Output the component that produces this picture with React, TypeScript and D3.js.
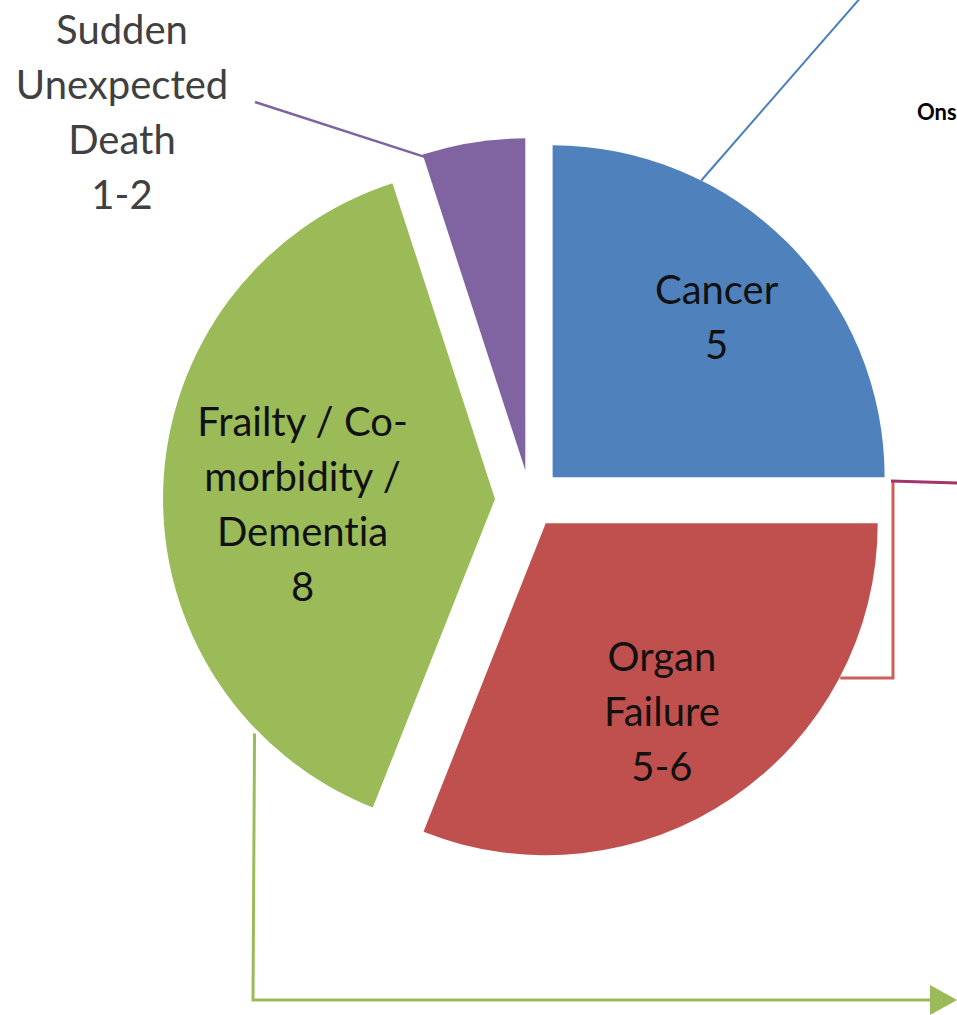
import * as d3 from "d3";
import React from "react";

// slice data (share of deaths)
const categories = ["Cancer", "Organ Failure", "Frailty / Co-morbidity / Dementia", "Sudden Unexpected Death"];
const shares = [25, 31, 39, 5];
const labelLines = [
  ["Cancer", "5"],
  ["Organ", "Failure", "5-6"],
  ["Frailty / Co-", "morbidity /", "Dementia", "8"],
  ["Sudden", "Unexpected", "Death", "1-2"],
];
const colors = ["#4f81bd", "#c0504d", "#9bbb59", "#8064a2"];

const W = 957;
const H = 1015;
const cx = 530;
const cy = 500;
const R = 332;
const explode = [32, 28, 35, 30];
const labelK = [0.69, 0.66, 0.58];
const labelShift = [[2, 2], [-7, 8], [0, 12]];
const lineH = 55;

function onArc(offX: number, offY: number, ang: number, r: number) {
  return [offX + Math.sin(ang) * r, offY - Math.cos(ang) * r];
}

export default function App() {
  const pie = d3.pie<number>().sort(null).value((d) => d);
  const arcs = pie(shares);
  const arc = d3.arc<d3.PieArcDatum<number>>().innerRadius(0).outerRadius(R);

  const offsets = arcs.map((a, i) => {
    const mid = (a.startAngle + a.endAngle) / 2;
    return [cx + Math.sin(mid) * explode[i], cy - Math.cos(mid) * explode[i]];
  });

  const deg = (v: number) => (v * Math.PI) / 180;

  // leader anchors on slice rims
  const blueA = onArc(offsets[0][0], offsets[0][1], deg(26.6), R);
  const redA = onArc(offsets[1][0], offsets[1][1], deg(117.5), R);
  const greenA = onArc(offsets[2][0], offsets[2][1], deg(225.7), R + 4);
  const purpleA = onArc(offsets[3][0], offsets[3][1], arcs[3].startAngle + deg(1), R - 6);

  return (
    <svg width={W} height={H} style={{ position: "absolute", left: 0, top: 0, display: "block", fontVariantLigatures: "none" }}
      fontFamily="Lato, 'Open Sans', sans-serif">
      <rect width={W} height={H} fill="#fff" />
      {arcs.map((a, i) => (
        <path key={categories[i]} d={arc(a) || ""} fill={colors[i]}
          transform={`translate(${offsets[i][0]},${offsets[i][1]})`} />
      ))}

      {/* inside labels */}
      {arcs.slice(0, 3).map((a, i) => {
        const mid = (a.startAngle + a.endAngle) / 2;
        const [px, py] = onArc(offsets[i][0], offsets[i][1], mid, R * labelK[i]);
        const lx = px + labelShift[i][0];
        const ly = py + labelShift[i][1];
        const lines = labelLines[i];
        const y0 = ly - ((lines.length - 1) * lineH) / 2 + 14;
        return (
          <text key={i} x={lx} y={y0} textAnchor="middle" fontSize={40} fill="#111">
            {lines.map((t, j) => (
              <tspan key={j} x={lx} y={y0 + j * lineH}>{t}</tspan>
            ))}
          </text>
        );
      })}

      {/* outside label for sudden death */}
      <text x={122} y={44} textAnchor="middle" fontSize={40} fill="#404040">
        {labelLines[3].map((t, j) => (
          <tspan key={j} x={122} y={44 + j * lineH}>{t}</tspan>
        ))}
      </text>
      <line x1={255} y1={102} x2={purpleA[0]} y2={purpleA[1]} stroke="#8064a2" strokeWidth={2.5} />

      {/* blue leader going off the top */}
      <line x1={blueA[0]} y1={blueA[1]} x2={862} y2={-4} stroke="#4a7ebb" strokeWidth={2} />

      <text x={917} y={120} fontSize={22} fontWeight="bold" fill="#000">Ons</text>

      {/* red bracket */}
      <polyline points={`${redA[0]},${678} 893,678 893,482`} fill="none" stroke="#c9605c" strokeWidth={3} />
      <line x1={891} y1={481} x2={960} y2={483} stroke="#a3336b" strokeWidth={3} />

      {/* green arrow */}
      <polyline points={`${greenA[0]},${greenA[1]} 253,1000 938,1000`} fill="none" stroke="#9bbb59" strokeWidth={3} />
      <path d="M930,985 L957,1000 L930,1015 Z" fill="#9bbb59" />
    </svg>
  );
}
